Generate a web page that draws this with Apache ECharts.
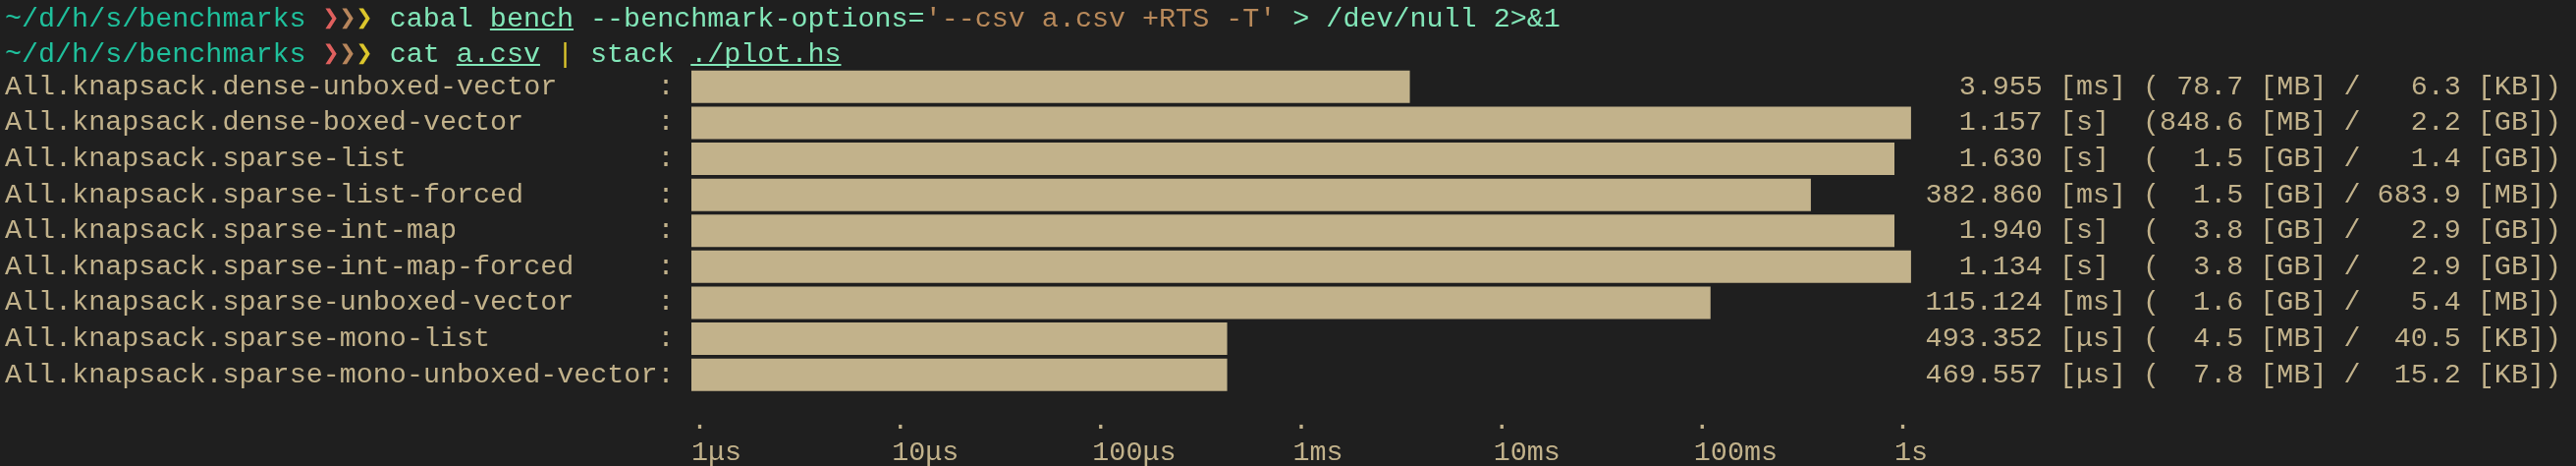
<!DOCTYPE html>
<html><head><meta charset="utf-8">
<script src="https://cdn.jsdelivr.net/npm/echarts@6/dist/echarts.min.js"></script>
<style>html,body{margin:0;padding:0;background:#1f1f1f;}#c{width:2623px;height:474px;}</style>
</head><body><div id="c"></div>
<script>
// ---- data ----
const benchmarks = [
  'All.knapsack.dense-unboxed-vector',
  'All.knapsack.dense-boxed-vector',
  'All.knapsack.sparse-list',
  'All.knapsack.sparse-list-forced',
  'All.knapsack.sparse-int-map',
  'All.knapsack.sparse-int-map-forced',
  'All.knapsack.sparse-unboxed-vector',
  'All.knapsack.sparse-mono-list',
  'All.knapsack.sparse-mono-unboxed-vector'
];
// bar lengths, in microseconds (log axis)
const barValues = [3830, 1210000, 1000000, 383000, 1000000, 1210000, 121000, 470, 470];
const stats = [
  '3.955 [ms] ( 78.7 [MB] /   6.3 [KB])',
  '1.157 [s]  (848.6 [MB] /   2.2 [GB])',
  '1.630 [s]  (  1.5 [GB] /   1.4 [GB])',
  '382.860 [ms] (  1.5 [GB] / 683.9 [MB])',
  '1.940 [s]  (  3.8 [GB] /   2.9 [GB])',
  '1.134 [s]  (  3.8 [GB] /   2.9 [GB])',
  '115.124 [ms] (  1.6 [GB] /   5.4 [MB])',
  '493.352 [μs] (  4.5 [MB] /  40.5 [KB])',
  '469.557 [μs] (  7.8 [MB] /  15.2 [KB])'
];
const tickValues = [1, 10, 100, 1000, 10000, 100000, 1000000];
const tickLabels = ['1μs', '10μs', '100μs', '1ms', '10ms', '100ms', '1s'];
const promptLine1 = [
  ['~/d/h/s/benchmarks', 'path'], [' ', 'plain'], ['❯', 'c1'], ['❯', 'c2'], ['❯', 'c3'], [' ', 'plain'],
  ['cabal', 'cmd'], [' ', 'plain'], ['bench', 'cmdU'], [' ', 'plain'], ['--benchmark-options=', 'cmd'],
  ["'--csv a.csv +RTS -T'", 'str'], [' > /dev/null 2>&1', 'cmd']
];
const promptLine2 = [
  ['~/d/h/s/benchmarks', 'path'], [' ', 'plain'], ['❯', 'c1'], ['❯', 'c2'], ['❯', 'c3'], [' ', 'plain'],
  ['cat', 'cmd'], [' ', 'plain'], ['a.csv', 'cmdU'], [' ', 'plain'], ['|', 'pipe'], [' ', 'plain'],
  ['stack', 'cmd'], [' ', 'plain'], ['./plot.hs', 'cmdU']
];

// ---- style ----
const FONT = "'Liberation Mono', 'DejaVu Sans Mono', monospace";
const FS = 28.4;
const CW = 17.03;
const X0 = 5;
const TAN = '#c2b28b';
const BG = '#1f1f1f';
const colors = {
  path: '#1fc09c', plain: '#82e6b8', c1: '#e0605e', c2: '#b8865c', c3: '#dcc62c',
  cmd: '#82e6b8', cmdU: '#82e6b8', str: '#b8895a', pipe: '#dcc62c'
};

const longest = Math.max(...benchmarks.map(s => s.length));
const leftLabels = benchmarks.map(s => s.padEnd(longest, ' ') + ':');

function promptGraphics(segs, yc) {
  const out = [];
  let col = 0;
  segs.forEach(([t, k]) => {
    for (let i = 0; i < t.length; i++) {
      const ch = t[i];
      if (ch !== ' ') {
        out.push({
          type: 'text', x: X0 + (col + i) * CW + CW / 2, y: yc,
          style: { text: ch, fill: colors[k], font: `${FS}px ${FONT}`, align: 'center', verticalAlign: 'middle' }
        });
      }
    }
    if (k === 'cmdU') {
      out.push({
        type: 'line',
        shape: { x1: X0 + col * CW, y1: yc + 11, x2: X0 + (col + t.length) * CW, y2: yc + 11 },
        style: { stroke: colors[k], lineWidth: 2 }
      });
    }
    col += t.length;
  });
  return out;
}

const chart = echarts.init(document.getElementById('c'), null, { renderer: 'canvas' });
chart.setOption({
  backgroundColor: BG,
  animation: false,
  grid: { left: 704, right: 694, top: 70, bottom: 71, containLabel: false },
  xAxis: {
    type: 'log', logBase: 10, min: 1, max: 1000000,
    axisLine: { show: false }, axisTick: { show: false }, splitLine: { show: false },
    axisLabel: {
      margin: 10, align: 'left', color: TAN, fontFamily: FONT, fontSize: FS,
      showMinLabel: true, showMaxLabel: true,
      rich: {
        d: { fontFamily: FONT, fontSize: FS, color: TAN, lineHeight: 37 },
        t: { fontFamily: FONT, fontSize: FS, color: TAN, lineHeight: 27 }
      },
      formatter: v => {
        const i = tickValues.indexOf(Math.pow(10, Math.round(Math.log10(v))));
        return i < 0 ? '' : '{d|.}\n{t|' + tickLabels[i] + '}';
      }
    }
  },
  yAxis: [
    {
      type: 'category', data: leftLabels, inverse: true,
      axisLine: { show: false }, axisTick: { show: false }, splitLine: { show: false },
      axisLabel: { interval: 0, align: 'left', margin: 699, color: TAN, fontFamily: FONT, fontSize: FS, padding: [3, 0, 0, 0] }
    },
    {
      type: 'category', data: stats, inverse: true, position: 'right',
      axisLine: { show: false }, axisTick: { show: false }, splitLine: { show: false },
      axisLabel: { interval: 0, align: 'right', margin: 679, color: TAN, fontFamily: FONT, fontSize: FS, padding: [3, 0, 0, 0] }
    }
  ],
  series: [{
    type: 'bar', data: barValues, yAxisIndex: 0, barWidth: 33, clip: false,
    itemStyle: { color: TAN }
  }],
  graphic: [...promptGraphics(promptLine1, 19), ...promptGraphics(promptLine2, 55)]
});
</script></body></html>
